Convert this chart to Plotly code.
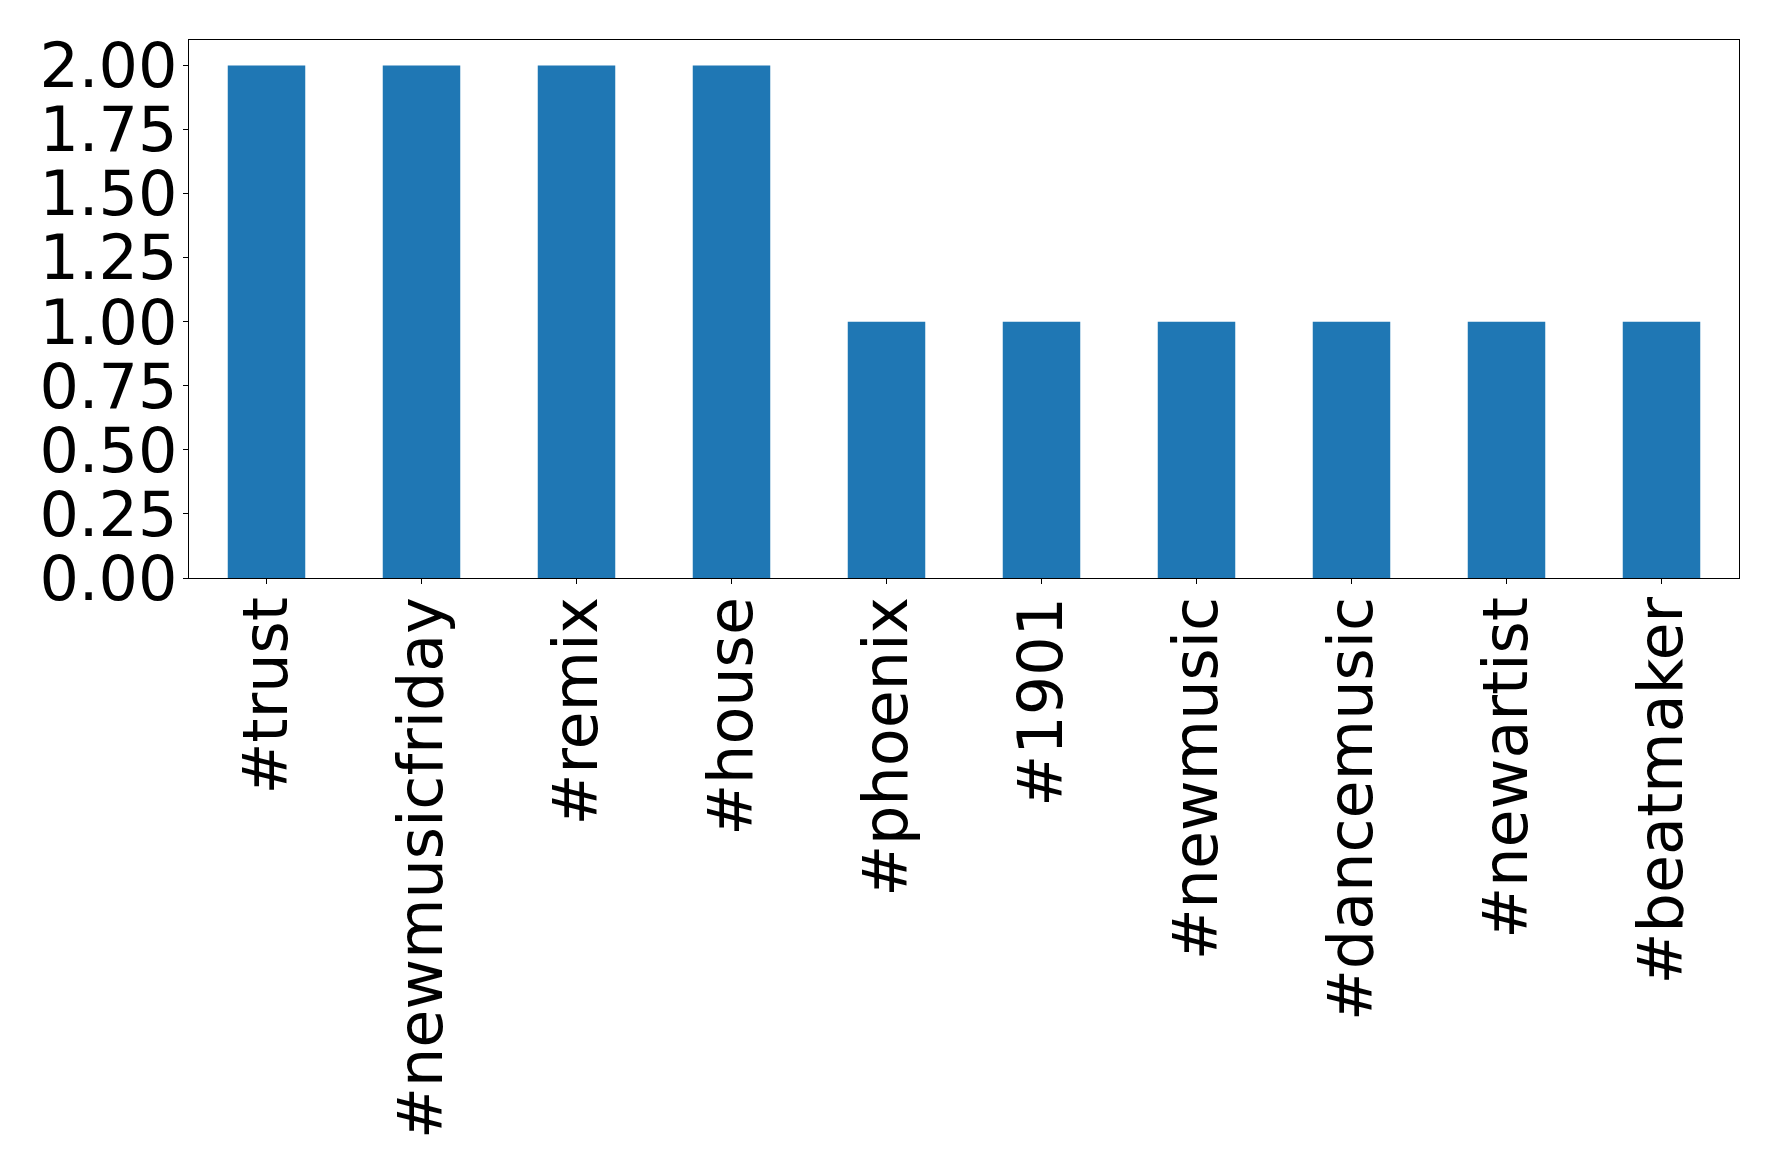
import plotly.graph_objects as go

categories = ["#trust", "#newmusicfriday", "#remix", "#house", "#phoenix",
              "#1901", "#newmusic", "#dancemusic", "#newartist", "#beatmaker"]
counts = [2, 2, 2, 2, 1, 1, 1, 1, 1, 1]
y_ticks = [0, 0.25, 0.5, 0.75, 1.0, 1.25, 1.5, 1.75, 2.0]

fig = go.Figure(go.Bar(x=categories, y=counts, width=0.5,
                       marker=dict(color="#1f77b4", line=dict(width=0))))

fig.update_layout(
    width=1770, height=1166,
    margin=dict(l=181, r=39, t=32, b=596),
    paper_bgcolor="white", plot_bgcolor="white",
    showlegend=False,
    font=dict(family="DejaVu Sans", size=62, color="black"),
)
fig.update_xaxes(range=[-0.5, 9.5], tickangle=-90, showline=True, linecolor="black",
                 linewidth=1.3, mirror=True, ticks="outside", ticklen=5, tickcolor="black",
                 showgrid=False, zeroline=False, automargin=False, ticklabelstandoff=-12,
                 tickfont=dict(family="DejaVu Sans", size=62))
fig.update_yaxes(range=[0, 2.1], tickvals=y_ticks, tickformat=".2f", showline=True,
                 linecolor="black", linewidth=1.3, mirror=True, ticks="outside", ticklen=5,
                 tickcolor="black", showgrid=False, zeroline=False, automargin=False,
                 ticklabelstandoff=-7,
                 tickfont=dict(family="DejaVu Sans", size=62))

fig.write_html("out.html")
